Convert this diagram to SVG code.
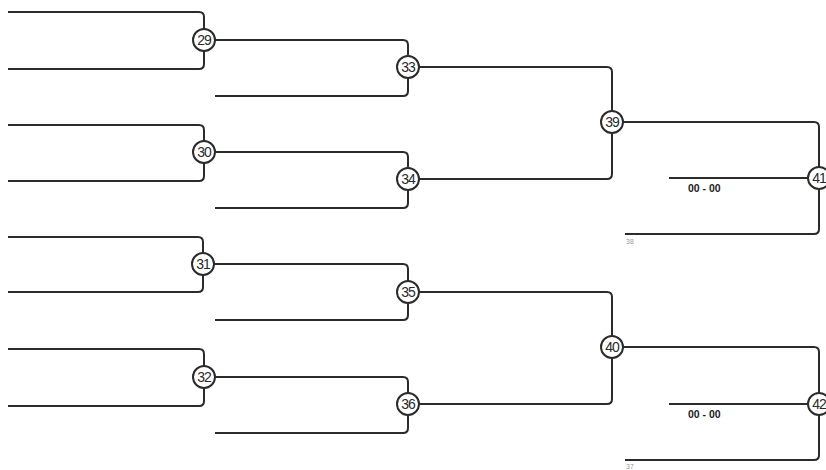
<svg xmlns="http://www.w3.org/2000/svg" width="826" height="470" viewBox="0 0 826 470">
<style>
.ln{fill:none;stroke:#2b2b2b;stroke-width:2;stroke-linejoin:round}
.c{fill:#fff;stroke:#2b2b2b;stroke-width:2}
.n{font-family:"Liberation Sans",Arial,sans-serif;font-size:14px;fill:#2b2b2b;text-anchor:middle;letter-spacing:-1px}
.s{font-family:"Liberation Sans",Arial,sans-serif;font-size:10.5px;font-weight:bold;fill:#222}
.t{font-family:"Liberation Sans",Arial,sans-serif;font-size:7px;fill:#999}
</style>
<rect width="826" height="470" fill="#fff"/>
<g id="connectors">
<path class="ln" d="M8 12 H199 Q204 12 204 17 V64 Q204 69 199 69 H8"/>
<path class="ln" d="M8 125 H199 Q204 125 204 130 V176 Q204 181 199 181 H8"/>
<path class="ln" d="M8 237 H198 Q203 237 203 242 V287 Q203 292 198 292 H8"/>
<path class="ln" d="M8 349 H199 Q204 349 204 354 V401 Q204 406 199 406 H8"/>
<path class="ln" d="M215 40 H403 Q408 40 408 45 V91 Q408 96 403 96 H215"/>
<path class="ln" d="M215 152 H403 Q408 152 408 157 V203 Q408 208 403 208 H215"/>
<path class="ln" d="M214 264 H403 Q408 264 408 269 V315 Q408 320 403 320 H215"/>
<path class="ln" d="M215 377 H403 Q408 377 408 382 V428 Q408 433 403 433 H215"/>
<path class="ln" d="M419 67 H607 Q612 67 612 72 V174 Q612 179 607 179 H419"/>
<path class="ln" d="M419 292 H607 Q612 292 612 297 V399 Q612 404 607 404 H419"/>
<path class="ln" d="M623 122 H814 Q819 122 819 127 V229 Q819 234 814 234 H625"/>
<path class="ln" d="M623 347 H814 Q819 347 819 352 V455 Q819 460 814 460 H625"/>
<path class="ln" d="M669 178 H810"/>
<path class="ln" d="M669 404 H810"/>
</g>
<g id="n29"><circle class="c" cx="204" cy="40" r="11"/><text class="n" x="204" y="45">29</text></g>
<g id="n30"><circle class="c" cx="204" cy="152" r="11"/><text class="n" x="204" y="157">30</text></g>
<g id="n31"><circle class="c" cx="203" cy="264" r="11"/><text class="n" x="203" y="269">31</text></g>
<g id="n32"><circle class="c" cx="204" cy="377" r="11"/><text class="n" x="204" y="382">32</text></g>
<g id="n33"><circle class="c" cx="408" cy="67" r="11"/><text class="n" x="408" y="72">33</text></g>
<g id="n34"><circle class="c" cx="408" cy="179" r="11"/><text class="n" x="408" y="184">34</text></g>
<g id="n35"><circle class="c" cx="408" cy="292" r="11"/><text class="n" x="408" y="297">35</text></g>
<g id="n36"><circle class="c" cx="408" cy="404" r="11"/><text class="n" x="408" y="409">36</text></g>
<g id="n39"><circle class="c" cx="612" cy="122" r="11"/><text class="n" x="612" y="127">39</text></g>
<g id="n40"><circle class="c" cx="612" cy="347" r="11"/><text class="n" x="612" y="352">40</text></g>
<g id="n41"><circle class="c" cx="819" cy="178" r="11"/><text class="n" x="819" y="183">41</text></g>
<g id="n42"><circle class="c" cx="819" cy="404" r="11"/><text class="n" x="819" y="409">42</text></g>
<g id="labels">
<text class="s" x="688" y="192">00 - 00</text>
<text class="s" x="688" y="418">00 - 00</text>
<text class="t" x="626" y="244">38</text>
<text class="t" x="626" y="469">37</text>
</g>
</svg>
